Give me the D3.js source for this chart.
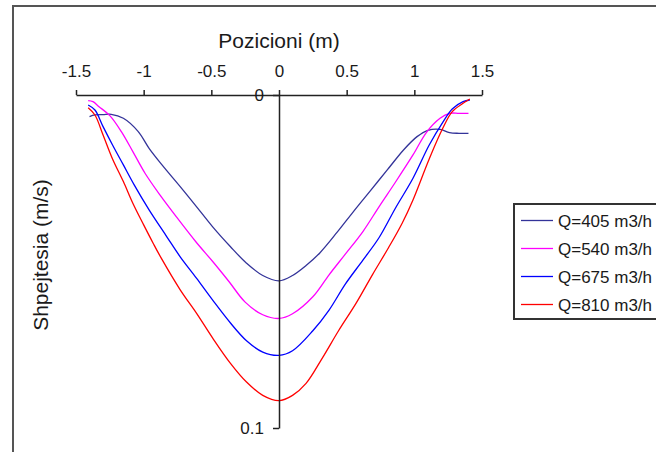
<!DOCTYPE html>
<html>
<head>
<meta charset="utf-8">
<script src="https://cdn.jsdelivr.net/npm/d3@7"></script>
<style>
  html, body { margin: 0; padding: 0; background: #fff; }
  svg { display: block; }
  text { font-family: "Liberation Sans", Arial, sans-serif; fill: #1a1a1a; }
</style>
</head>
<body>
<svg id="chart" width="656" height="452"></svg>
<script>
// ---- Data ----
const seriesNames = ["Q=405 m3/h", "Q=540 m3/h", "Q=675 m3/h", "Q=810 m3/h"];
const seriesColors = ["#333399", "#ff00ff", "#0000ff", "#ff0000"];

const xTicks = [-1.5, -1, -0.5, 0, 0.5, 1, 1.5];
const xTickLabels = ["-1.5", "-1", "-0.5", "0", "0.5", "1", "1.5"];
const yTicks = [0, 0.1];
const yTickLabels = ["0", "0.1"];

const pos405 = [-1.40,-1.36,-1.30,-1.24,-1.15,-1.04,-0.96,-0.86,-0.73,-0.61,-0.49,-0.36,-0.24,-0.12,0,0.10,0.20,0.30,0.43,0.55,0.67,0.80,0.92,1.02,1.10,1.19,1.26,1.33,1.40];
const vel405 = [0.0065,0.0060,0.0059,0.0058,0.0070,0.0110,0.0160,0.0212,0.0275,0.0335,0.0396,0.0455,0.0505,0.0542,0.0558,0.0542,0.0512,0.0475,0.0412,0.0350,0.0290,0.0225,0.0165,0.0125,0.0106,0.0103,0.0113,0.0115,0.0115];

const pos540 = [-1.41,-1.375,-1.33,-1.25,-1.165,-1.08,-0.99,-0.88,-0.76,-0.61,-0.49,-0.37,-0.25,-0.12,0,0.10,0.25,0.37,0.49,0.62,0.74,0.86,0.99,1.09,1.19,1.26,1.33,1.40];
const vel540 = [0.0017,0.0020,0.0035,0.0062,0.0110,0.0170,0.0235,0.0300,0.0365,0.0443,0.0500,0.0560,0.0622,0.0660,0.0671,0.0657,0.0606,0.0540,0.0478,0.0410,0.0335,0.0262,0.0180,0.0112,0.0070,0.0055,0.0055,0.0055];

const pos675 = [-1.41,-1.36,-1.30,-1.23,-1.15,-1.07,-0.96,-0.83,-0.73,-0.61,-0.49,-0.36,-0.24,-0.12,0,0.10,0.25,0.37,0.49,0.62,0.74,0.86,0.99,1.11,1.21,1.28,1.36,1.41];
const vel675 = [0.0030,0.0045,0.0095,0.0150,0.0210,0.0270,0.0345,0.0425,0.0486,0.0550,0.0616,0.0684,0.0738,0.0772,0.0782,0.0768,0.0708,0.0646,0.0568,0.0496,0.0428,0.0340,0.0250,0.0150,0.0082,0.0042,0.0020,0.0015];

const pos810 = [-1.41,-1.36,-1.30,-1.23,-1.15,-1.08,-1.00,-0.93,-0.87,-0.73,-0.61,-0.49,-0.36,-0.24,-0.12,0,0.10,0.20,0.32,0.44,0.57,0.69,0.81,0.91,0.99,1.11,1.21,1.28,1.36,1.41];
const vel810 = [0.0038,0.0060,0.0120,0.0192,0.0260,0.0325,0.0390,0.0445,0.0490,0.0585,0.0655,0.0730,0.0805,0.0862,0.0902,0.0918,0.0902,0.0866,0.0790,0.0708,0.0625,0.0540,0.0458,0.0385,0.0315,0.0192,0.0100,0.0050,0.0025,0.0012];

const positions = [pos405, pos540, pos675, pos810];
const velocities = [vel405, vel540, vel675, vel810];

// ---- Drawing ----
const svg = d3.select("#chart");

// outer frame
svg.append("rect")
  .attr("x", 13).attr("y", 6)
  .attr("width", 700).attr("height", 500)
  .attr("fill", "none").attr("stroke", "#555").attr("stroke-width", 2);

const x = d3.scaleLinear().domain([-1.5, 1.5]).range([76, 482]);
const y = d3.scaleLinear().domain([0, 0.1]).range([95, 428]);

// series lines
const line = d3.line()
  .x(d => x(d[0]))
  .y(d => y(d[1]))
  .curve(d3.curveCatmullRom.alpha(0.5));

seriesNames.forEach((name, i) => {
  const pts = positions[i].map((p, j) => [p, velocities[i][j]]);
  svg.append("path")
    .datum(pts)
    .attr("fill", "none")
    .attr("stroke", seriesColors[i])
    .attr("stroke-width", 1.3)
    .attr("d", line);
});

// x axis (top)
const xAxis = d3.axisTop(x)
  .tickValues(xTicks)
  .tickFormat((d, i) => xTickLabels[i])
  .tickSizeInner(5)
  .tickSizeOuter(0)
  .tickPadding(13);
const gx = svg.append("g").attr("transform", "translate(0,95)").call(xAxis);
gx.selectAll("path, line").attr("stroke", "#222").attr("stroke-width", 1.5);
gx.selectAll("text").style("font-size", "17px").attr("fill", "#1a1a1a")
  .style("font-family", "'Liberation Sans', Arial, sans-serif");

// y axis
const yAxis = d3.axisLeft(y)
  .tickValues(yTicks)
  .tickFormat((d, i) => yTickLabels[i])
  .tickSizeInner(6)
  .tickSizeOuter(0)
  .tickPadding(9);
const gy = svg.append("g").attr("transform", "translate(279,0)").call(yAxis);
gy.selectAll("path, line").attr("stroke", "#222").attr("stroke-width", 1.5);
gy.selectAll("text").style("font-size", "17px").attr("fill", "#1a1a1a")
  .style("font-family", "'Liberation Sans', Arial, sans-serif");

// axis titles
svg.append("text")
  .attr("x", 279).attr("y", 48)
  .attr("text-anchor", "middle")
  .style("font-size", "21px")
  .text("Pozicioni (m)");

svg.append("text")
  .attr("transform", "translate(48,255) rotate(-90)")
  .attr("text-anchor", "middle")
  .style("font-size", "21px")
  .text("Shpejtesia (m/s)");

// legend
svg.append("rect")
  .attr("x", 514).attr("y", 204)
  .attr("width", 200).attr("height", 115)
  .attr("fill", "#fff").attr("stroke", "#333").attr("stroke-width", 2);

const legendY = [220.5, 248.5, 276.5, 304.5];
seriesNames.forEach((name, i) => {
  svg.append("line")
    .attr("x1", 521).attr("x2", 553)
    .attr("y1", legendY[i]).attr("y2", legendY[i])
    .attr("stroke", seriesColors[i]).attr("stroke-width", 1.3);
  svg.append("text")
    .attr("x", 558).attr("y", legendY[i] + 6)
    .style("font-size", "17px")
    .text(name);
});
</script>
</body>
</html>
